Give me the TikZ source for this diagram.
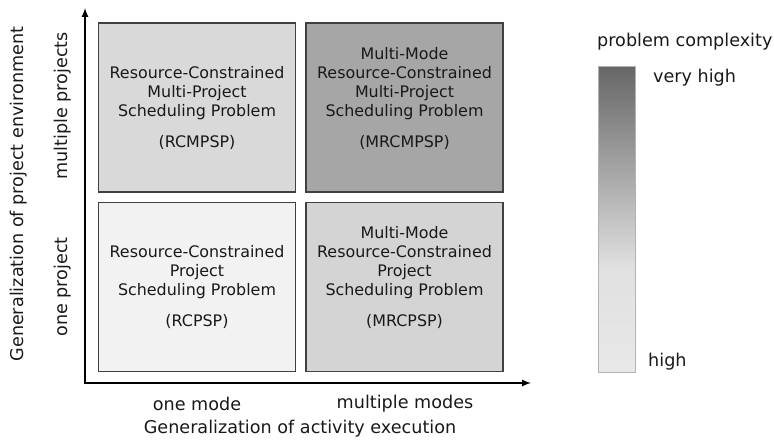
\documentclass[tikz,border=0pt]{standalone}
\usepackage{fontspec}
\setmainfont{DejaVu Sans}
\usetikzlibrary{arrows,positioning}
\newcommand{\boxw}{197}
\newcommand{\boxh}{169}
\newcommand{\accgap}{12pt}
\pgfdeclareverticalshading{complexity}{100bp}{color(0bp)=(black!9); color(25bp)=(black!9); color(42bp)=(black!12); color(75bp)=(black!60); color(100bp)=(black!60)}
\newcommand{\prob}[5]{
	\node[probbox, fill=#3] (#1) at (#2) {};
	\node[probtext] at ([yshift=43pt]#1.south) {#4\\[\accgap]#5};
	}

\begin{document}
\begin{tikzpicture}[
      x=1pt, y=-1pt,
      probbox/.style={draw=black!75, line width=1.4pt, minimum width=\boxw pt, minimum height=\boxh pt, inner sep=0},
      probtext/.style={anchor=south, align=center, inner sep=0, text=black!90, font=\fontsize{15.9}{19}\selectfont},
      axis/.style={line width=2pt, latex-latex},
      label/.style={font=\fontsize{17.6}{21}\selectfont, text=black!90}
    ]
    \useasboundingbox (0,0) rectangle (774,442);
    % the four problem classes
    \prob{rcmpsp}{197,107.5}{black!15}{Resource-Constrained\\Multi-Project\\Scheduling Problem}{(RCMPSP)};
    \prob{mrcmpsp}{404.5,107.5}{black!35}{Multi-Mode\\Resource-Constrained\\Multi-Project\\Scheduling Problem}{(MRCMPSP)};
    \prob{rcpsp}{197,287}{black!5}{Resource-Constrained\\Project\\Scheduling Problem}{(RCPSP)};
    \prob{mrcpsp}{404.5,287}{black!17}{Multi-Mode\\Resource-Constrained\\Project\\Scheduling Problem}{(MRCPSP)};
    % axes
    \coordinate (origin) at (85,383);
    \coordinate (ytip) at (85,8);
    \coordinate (xtip) at (531,383);
    \draw[axis] (ytip) -- (origin) -- (xtip);
    % axis labels
    \node[label, rotate=90] (multi) at (63,106) {multiple projects};
    \node[label, rotate=90] (one) at (63,287) {one project};
    \node[label, rotate=90] (envir) at (19,194) {Generalization of project environment};
    \node[label] (onemode) at (197,404) {one mode};
    \node[label] (multimode) at (405,404) {multiple modes};
    \node[label] (activ) at (300,429) {Generalization of activity execution};
    % legend
    \node[label, anchor=west, inner sep=0] (legend) at (597,42) {problem complexity};
    \node[draw=black!30, line width=0.8pt, shading=complexity, minimum width=37pt, minimum height=306pt, inner sep=0] (bar) at (616.5,219) {};
    \node[label, anchor=west, inner sep=0] (vhigh) at (653,78) {very high};
    \node[label, anchor=west, inner sep=0] (high) at (648,362) {high};
    \end{tikzpicture}
\end{document}
